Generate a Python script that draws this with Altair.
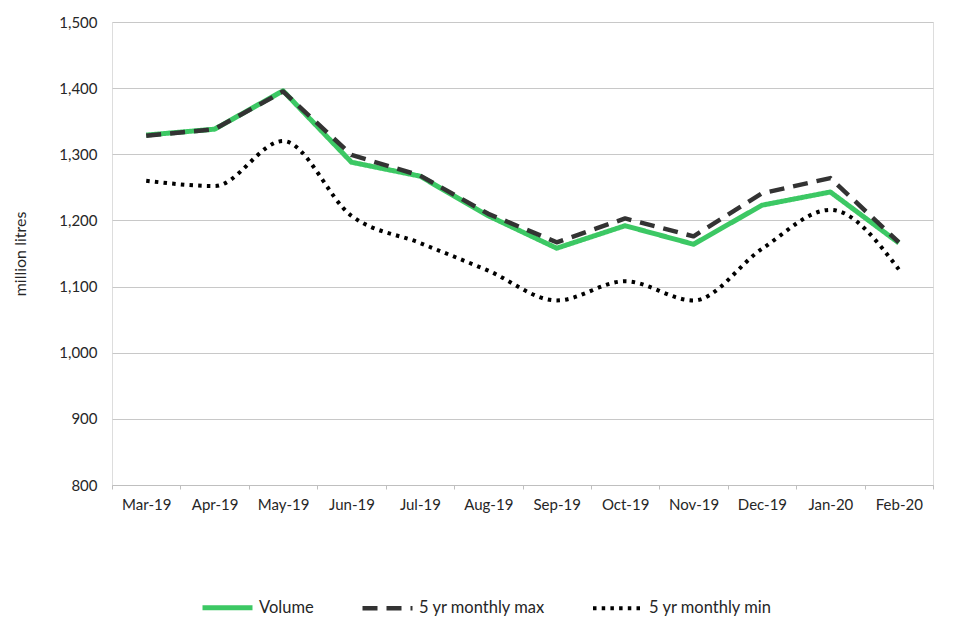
import altair as alt
import pandas as pd

months = ["Mar-19", "Apr-19", "May-19", "Jun-19", "Jul-19", "Aug-19",
          "Sep-19", "Oct-19", "Nov-19", "Dec-19", "Jan-20", "Feb-20"]
volume = [1329, 1338, 1396, 1288, 1267, 1207, 1158, 1192, 1164, 1223, 1243, 1166]
max5 = [1328, 1338, 1395, 1299, 1268, 1210, 1167, 1203, 1176, 1241, 1264, 1167]
min5 = [1260, 1252, 1320, 1207, 1166, 1124, 1079, 1108, 1079, 1157, 1216, 1126]
series = ["Volume", "5 yr monthly max", "5 yr monthly min"]
y_ticks = [800, 900, 1000, 1100, 1200, 1300, 1400, 1500]

rows = []
for name, vals in zip(series, [volume, max5, min5]):
    for m, v in zip(months, vals):
        rows.append({"month": m, "value": v, "series": name})
df = pd.DataFrame(rows)

FONT = "Lato"
FS = 15
TXT = "#262626"

legend = alt.Legend(
    title=None, orient="none", legendX=88, legendY=558, direction="horizontal",
    symbolType="stroke", symbolSize=2500, labelFontSize=16.5, labelFont=FONT,
    labelColor=TXT, columnPadding=39, labelOffset=4,
)

def layer(name, interp):
    return alt.Chart(df).transform_filter(alt.datum.series == name).mark_line(
        interpolate=interp, strokeCap="butt", strokeJoin="round"
    ).encode(
        x=alt.X("month:N", sort=months,
                scale=alt.Scale(type="band", paddingInner=0, paddingOuter=0),
                axis=alt.Axis(title=None, tickBand="extent", domainColor="#bfbfbf",
                              tickColor="#bfbfbf", tickSize=4, labelPadding=8,
                              labelAngle=0, grid=False, labelFontSize=FS,
                              labelFont=FONT, labelColor=TXT)),
        y=alt.Y("value:Q", scale=alt.Scale(domain=[800, 1500], nice=False, zero=False),
                axis=alt.Axis(values=y_ticks, format=",.0f", title="million litres",
                              domain=False, ticks=False, gridColor="#c8c8c8",
                              labelPadding=15, titlePadding=30, labelFontSize=FS,
                              labelFont=FONT, labelColor=TXT, titleFont=FONT,
                              titleFontSize=16, titleFontWeight="normal",
                              titleColor=TXT)),
        color=alt.Color("series:N", sort=series,
                        scale=alt.Scale(domain=series, range=["#3cc864", "#333333", "#000000"]),
                        legend=legend),
        strokeDash=alt.StrokeDash("series:N", sort=series,
                                  scale=alt.Scale(domain=series, range=[[1, 0], [15, 9], [3.5, 5.2]]),
                                  legend=legend),
        strokeWidth=alt.StrokeWidth("series:N", sort=series,
                                    scale=alt.Scale(domain=series, range=[5, 4, 3.5]),
                                    legend=legend),
    )

chart = alt.layer(
    layer("Volume", "linear"),
    layer("5 yr monthly max", "linear"),
    layer("5 yr monthly min", "monotone"),
).properties(
    width=821, height=463,
    autosize=alt.AutoSizeParams(type="none"),
    padding={"left": 104, "top": 14, "right": 19, "bottom": 147},
).configure_view(stroke=None).configure_axis(
    titleFontSize=16, titleFont=FONT, titleFontWeight="normal"
).configure(background="white")

chart.save("out.html", embed_options={"renderer": "svg", "actions": False})
